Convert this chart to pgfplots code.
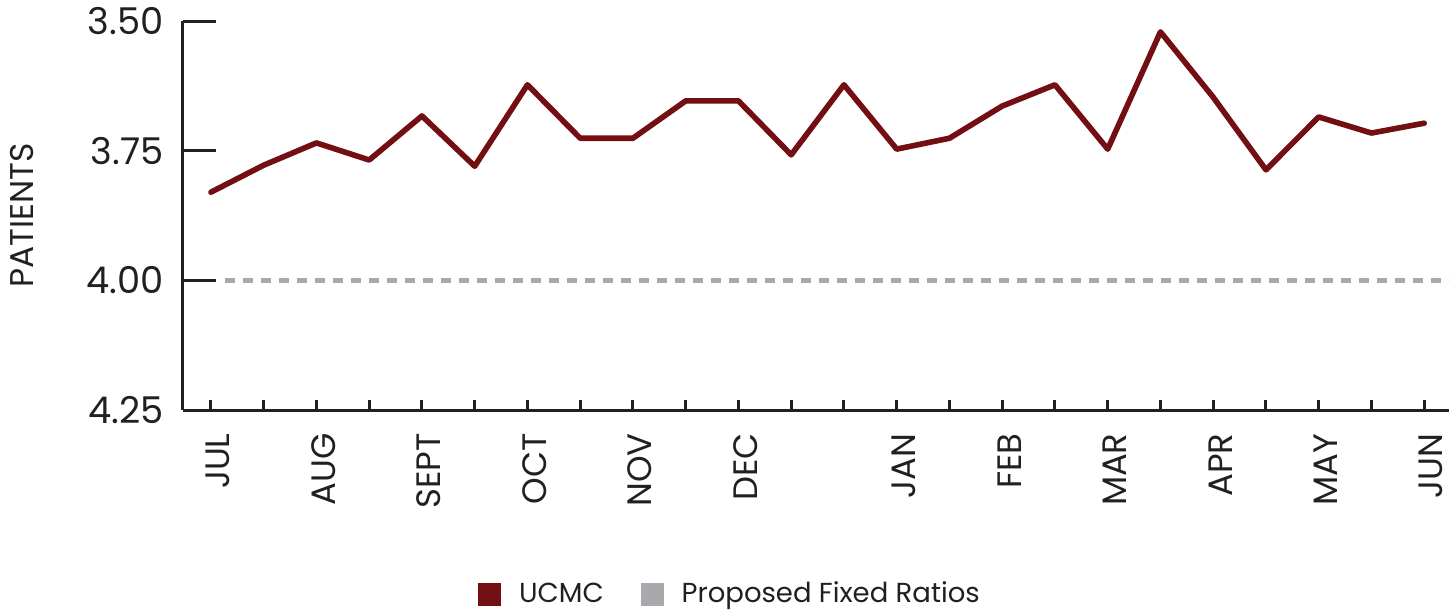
\documentclass[border=0pt]{standalone}
\usepackage{fontspec}
\setmainfont{Poppins}
\usepackage{pgfplots}
\pgfplotsset{compat=1.18}
\definecolor{ucmc}{RGB}{115,14,18}
\definecolor{fixedgray}{RGB}{167,169,172}
\definecolor{axisgray}{RGB}{35,31,32}
\begin{document}
\begin{tikzpicture}
\begin{axis}[
  at={(0,0)}, anchor=south west,
  scale only axis, width=633bp, height=194.5bp,
  xmin=-0.53, xmax=23.47,
  ymin=3.5, ymax=4.25, y dir=reverse,
  axis x line*=bottom, axis y line*=left,
  axis line style={-, draw=axisgray, line width=1.5bp},
  tick style={draw=axisgray, line width=1.5bp},
  tick align=inside,
  xtick={0,...,23},
  xticklabels={JUL,{},AUG,{},SEPT,{},OCT,{},NOV,{},DEC,{},{},JAN,{},FEB,{},MAR,{},APR,{},MAY,{},JUN},
  ytick={3.5,3.75,4,4.25},
  yticklabels={3.50,3.75,4.00,4.25},
  xtick style={/pgfplots/major tick length=5bp},
  ytick style={/pgfplots/major tick length=16.5bp},
  yticklabel style={font=\fontsize{18.5}{20}\selectfont, text=axisgray, anchor=east, inner xsep=9.5bp},
  xticklabel style={font=\fontsize{17}{19}\selectfont, text=axisgray, xshift=3.5bp, rotate=90, anchor=east, inner xsep=11.5bp},
  ylabel={PATIENTS},
  every axis y label/.style={at={(axis description cs:-0.1268,0.5)}, rotate=90, anchor=center, font=\fontsize{16.5}{18}\selectfont, text=axisgray},
  legend style={at={(axis description cs:0.233,-0.4730)}, anchor=west, draw=none, fill=none, inner sep=0pt,
    font=\fontsize{13.8}{16}\selectfont, text=axisgray,
    nodes={inner sep=0pt},
    /tikz/every odd column/.append style={column sep=9bp},
    /tikz/every even column/.append style={column sep=18.5bp}},
  legend columns=-1,
  legend cell align=left,
]
\addplot[forget plot, color=ucmc, line width=2.8bp, line join=round, line cap=round] coordinates {
(0,3.830) (1,3.778) (2,3.735) (3,3.768) (4,3.683) (5,3.780)
(6,3.623) (7,3.726) (8,3.726) (9,3.654) (10,3.654) (11,3.758)
(12,3.623) (13,3.747) (14,3.726) (15,3.664) (16,3.623) (17,3.747)
(18,3.521) (19,3.647) (20,3.787) (21,3.685) (22,3.716) (23,3.697)
};
\addplot[forget plot, color=fixedgray, line width=2.5bp, dash pattern=on 5bp off 4bp] coordinates {(0.265,4) (23.47,4)};
\addlegendimage{legend image code/.code={\fill[ucmc] (0bp,-5.5bp) rectangle (11bp,5.5bp);}}
\addlegendentry{UCMC}
\addlegendimage{legend image code/.code={\fill[fixedgray] (0bp,-5.5bp) rectangle (11bp,5.5bp);}}
\addlegendentry{Proposed Fixed Ratios}
\end{axis}
\pgfresetboundingbox
\path (-91.5bp,-100bp) rectangle (636.5bp,205bp);
\end{tikzpicture}
\end{document}
